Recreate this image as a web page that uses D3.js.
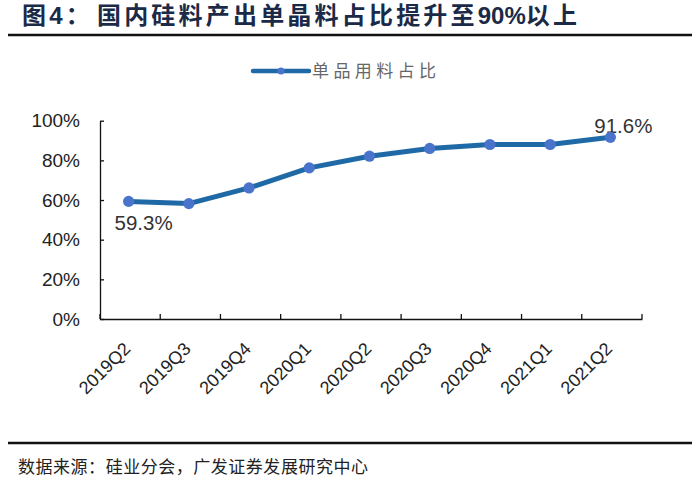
<!DOCTYPE html>
<html><head><meta charset="utf-8">
<script src="https://cdn.jsdelivr.net/npm/d3@7"></script>
<style>body{margin:0;background:#fff}svg{display:block}</style>
</head><body>
<svg id="c" width="700" height="481"></svg>
<script>
const categories = ["2019Q2","2019Q3","2019Q4","2020Q1","2020Q2","2020Q3","2020Q4","2021Q1","2021Q2"];
const values = [59.3, 58.2, 66.1, 76.2, 82.1, 86.0, 88.0, 88.0, 91.6];
const yTicks = [0, 20, 40, 60, 80, 100];
const labeled = {0: "59.3%", 8: "91.6%"};
const seriesName = "单品用料占比";
const titleParts = ["图4：", "国内硅料产出单晶料占比提升至", "90%", "以上"];
const source = "数据来源：硅业分会，广发证券发展研究中心";

const svg = d3.select("#c");
const pLeft = 100, pRight = 642, pTop = 120.7, pBottom = 319;
const x = d3.scaleBand().domain(categories).range([pLeft, pRight]);
const y = d3.scaleLinear().domain([0, 100]).range([pBottom, pTop]);
const sans = "Arial, 'Liberation Sans', sans-serif";
const cjk = "'Noto Sans CJK SC', sans-serif";

// title
const tt = svg.append("text").attr("x", 22).attr("y", 24)
  .attr("font-family", "'Liberation Sans', 'Noto Sans CJK SC'")
  .attr("font-weight", "bold").attr("font-size", 24).attr("fill", "#1b2a47");
tt.selectAll("tspan").data(titleParts).enter().append("tspan")
  .attr("letter-spacing", (d, i) => i == 2 ? 0 : 3.2)
  .attr("dx", (d, i) => i == 1 ? 4 : 0)
  .text(d => d);
svg.append("line").attr("x1", 8).attr("x2", 692).attr("y1", 35).attr("y2", 35)
  .attr("stroke", "#111").attr("stroke-width", 2.5);
svg.append("line").attr("x1", 8).attr("x2", 692).attr("y1", 443).attr("y2", 443)
  .attr("stroke", "#111").attr("stroke-width", 2.5);
svg.append("text").attr("x", 18).attr("y", 473)
  .attr("font-family", cjk).attr("font-size", 17).attr("fill", "#222")
  .attr("textLength", 350).attr("lengthAdjust", "spacing")
  .text(source);

// legend
const lg = svg.append("g");
lg.append("line").attr("x1", 253).attr("x2", 309).attr("y1", 71).attr("y2", 71)
  .attr("stroke", "#1f6aa6").attr("stroke-width", 4.5).attr("stroke-linecap", "round");
lg.append("circle").attr("cx", 281).attr("cy", 71).attr("r", 3.5).attr("fill", "#4a74cc");
lg.append("text").attr("x", 312).attr("y", 77).attr("font-family", cjk)
  .attr("font-size", 17).attr("fill", "#666")
  .attr("textLength", 124).attr("lengthAdjust", "spacing").text(seriesName);

// y axis
const yAxis = d3.axisLeft(y).tickValues(yTicks).tickFormat(d => d + "%").tickSizeInner(-4).tickSizeOuter(0).tickPadding(20);
const gy = svg.append("g").attr("transform", `translate(${pLeft},0)`).call(yAxis);
gy.select(".domain").attr("stroke", "#111").attr("stroke-width", 1.3);
gy.selectAll(".tick line").attr("stroke", "#111").attr("stroke-width", 1.3);
gy.selectAll(".tick text").attr("font-family", sans).attr("font-size", 19).attr("fill", "#222");

// x axis
const xAxis = d3.axisBottom(x).tickValues([]).tickSizeOuter(0);
const gx = svg.append("g").attr("transform", `translate(0,${pBottom})`).call(xAxis);
gx.select(".domain").attr("stroke", "#111").attr("stroke-width", 1.3);
const bounds = categories.map(c => x(c)).concat([pRight]);
gx.selectAll(".bt").data(bounds).enter().append("line")
  .attr("x1", d => d).attr("x2", d => d).attr("y1", 0).attr("y2", -5)
  .attr("stroke", "#111").attr("stroke-width", 1.3);
gx.selectAll(".xl").data(categories).enter().append("text")
  .attr("transform", d => `translate(${x(d) + x.bandwidth()/2 + 1.5},${31}) rotate(-45)`)
  .attr("text-anchor", "end").attr("font-family", sans).attr("font-size", 18)
  .attr("fill", "#222").text(d => d);

// data points
const cx = d => x(d) + x.bandwidth()/2 - 1.5;
const pts = categories.map((c, i) => [cx(c), y(values[i])]);

// data labels (drawn beneath the line)
svg.selectAll(".dl").data(Object.keys(labeled)).enter().append("text")
  .attr("x", i => pts[i][0] + (i == 0 ? 15 : 13))
  .attr("y", i => pts[i][1] + (i == 0 ? 29 : -4))
  .attr("text-anchor", "middle").attr("font-family", sans).attr("font-size", 20.5)
  .attr("fill", "#333").text(i => labeled[i]);

svg.append("path").attr("d", d3.line()(pts)).attr("fill", "none")
  .attr("stroke", "#1f6aa6").attr("stroke-width", 5).attr("stroke-linejoin", "round");
svg.selectAll(".pt").data(pts).enter().append("circle")
  .attr("cx", d => d[0]).attr("cy", d => d[1]).attr("r", 5.6).attr("fill", "#4a74cc");
</script>
</body></html>
